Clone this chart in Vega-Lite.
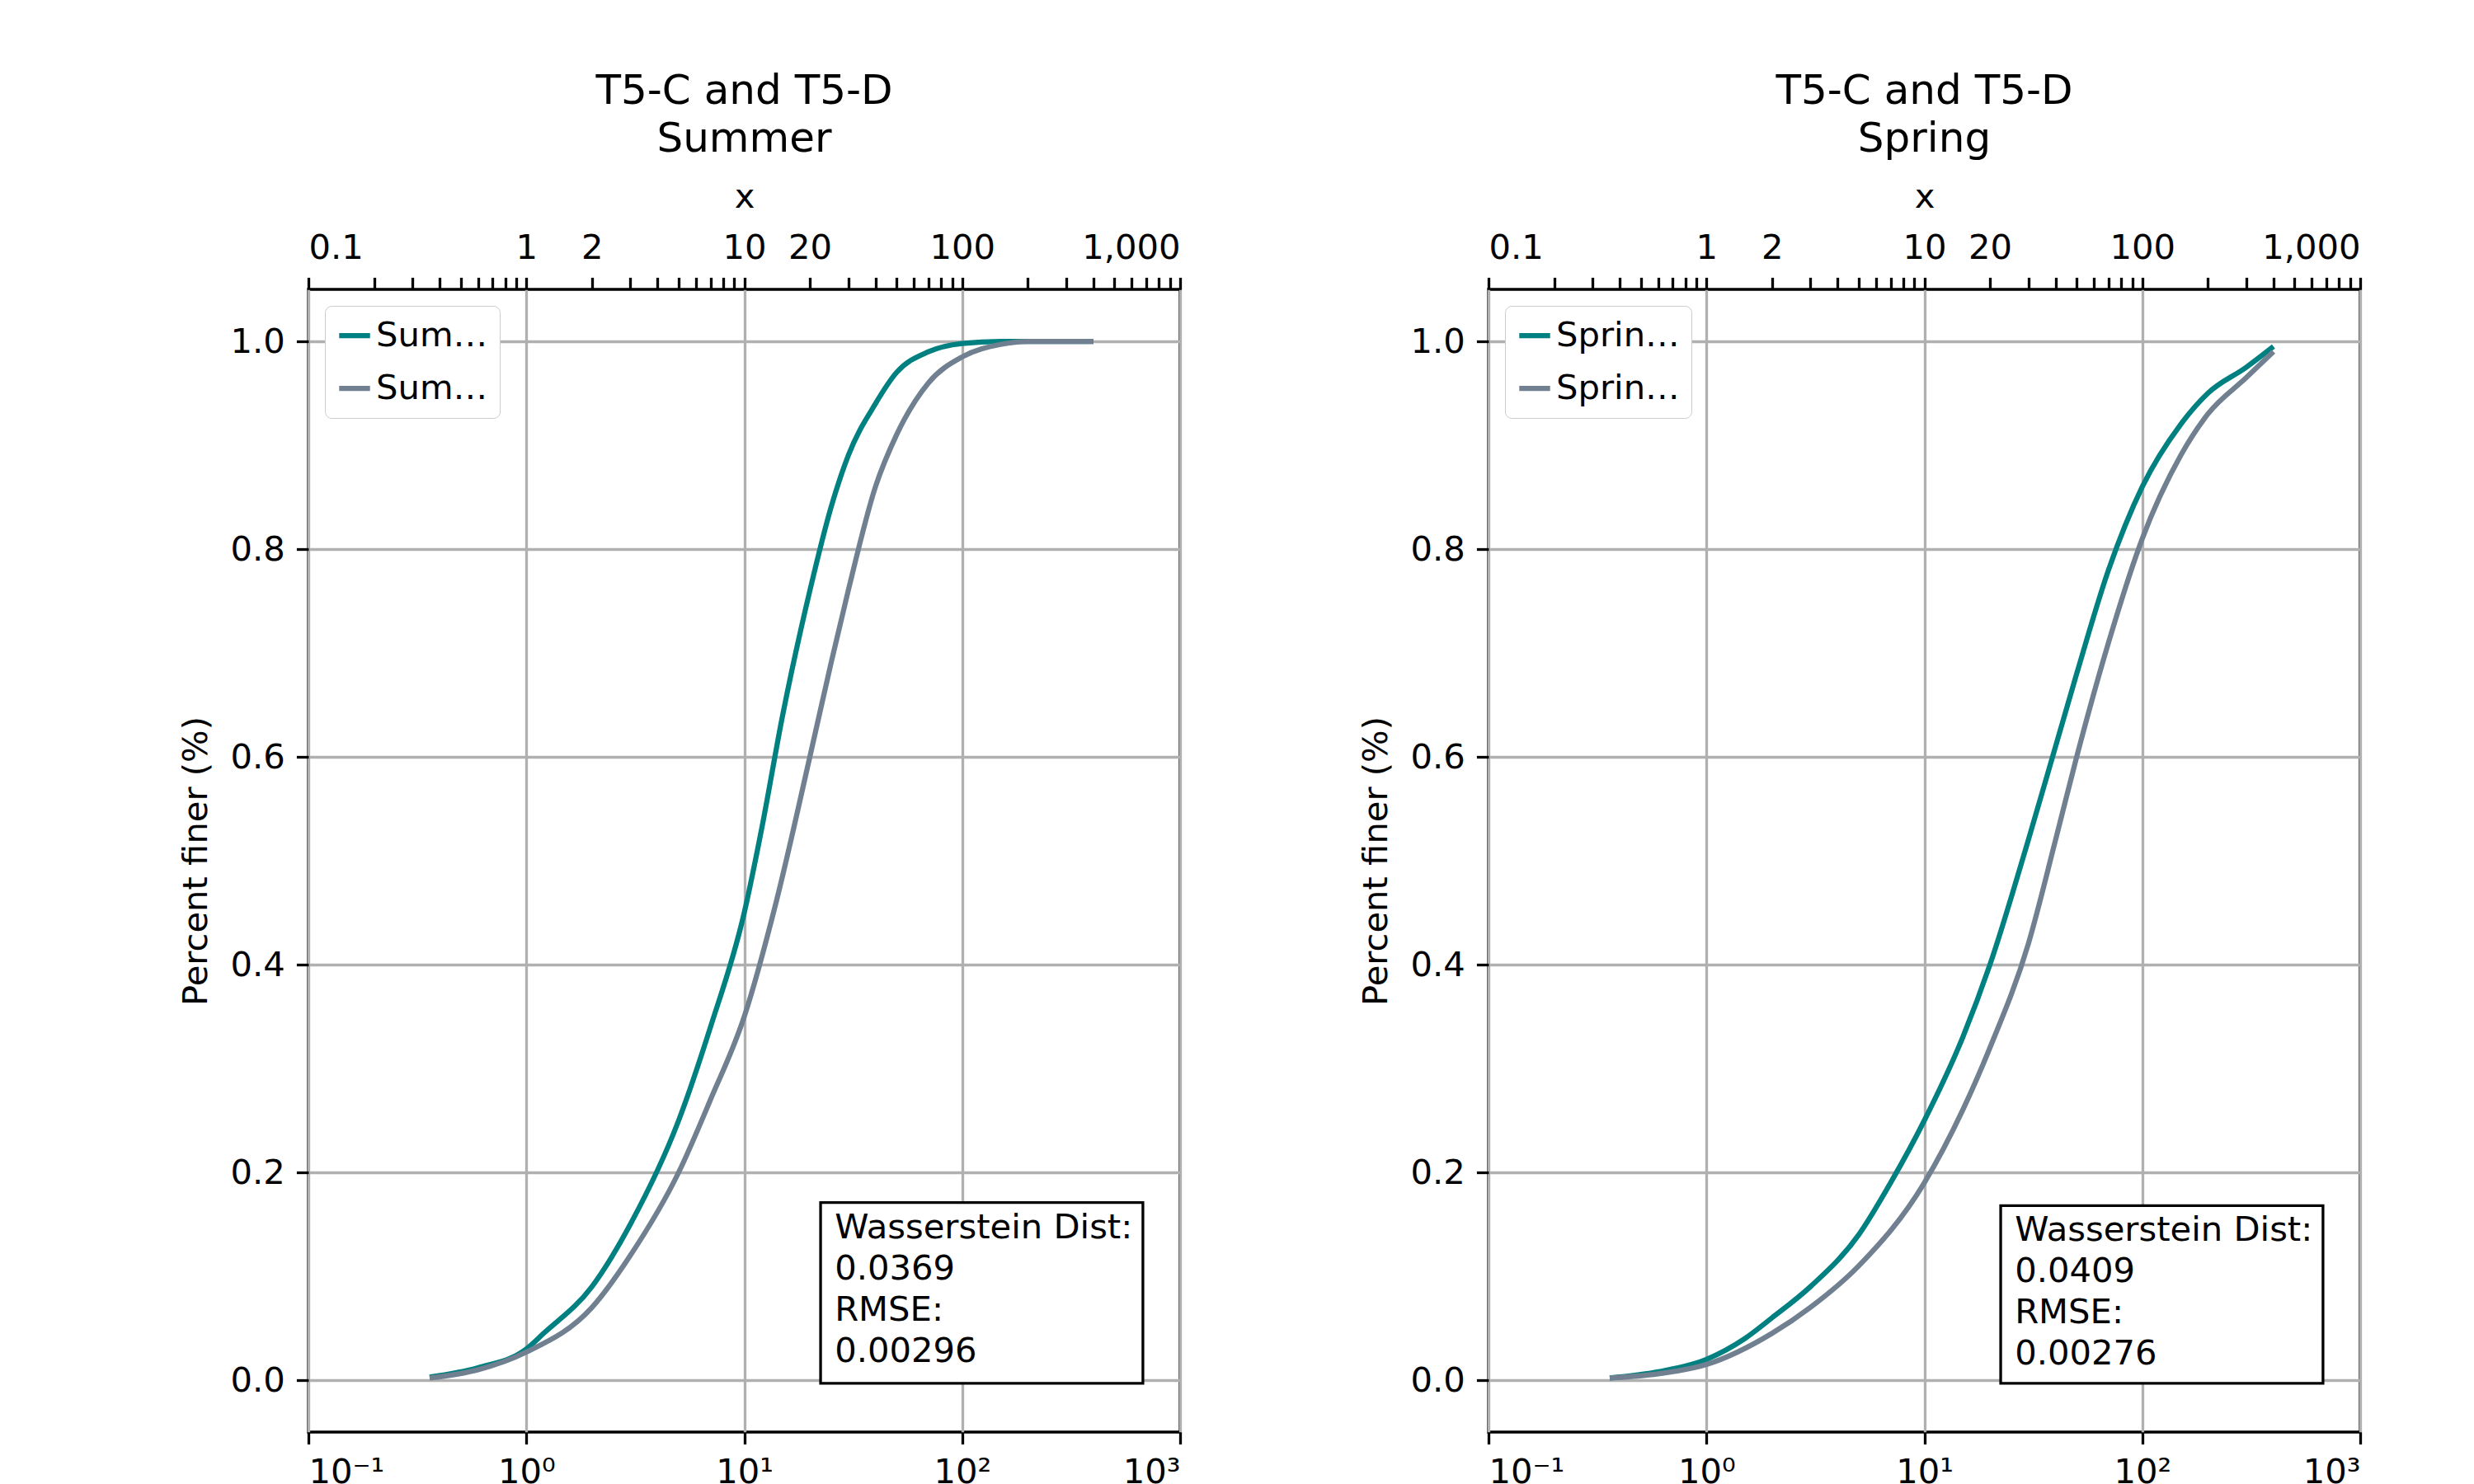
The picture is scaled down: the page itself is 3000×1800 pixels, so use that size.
{
  "$schema": "https://vega.github.io/schema/vega-lite/v6.json",
  "padding": {"left": 215, "top": 84, "right": 0, "bottom": 0},
  "background": "white",
  "spacing": 211,
  "config": {
    "font": "DejaVu Sans",
    "view": {"stroke": "black", "strokeWidth": 3.3},
    "title": {"fontSize": 50, "fontWeight": "normal", "lineHeight": 58, "offset": 24, "color": "black"},
    "axis": {
      "labelFontSize": 41.7, "titleFontSize": 41.7, "titleFontWeight": "normal",
      "labelColor": "black", "titleColor": "black",
      "gridColor": "#b0b0b0", "gridWidth": 3.3, "gridOpacity": 1,
      "tickColor": "black", "tickWidth": 3.3, "tickSize": 14.6,
      "domain": false, "labelPadding": 14, "titlePadding": 20
    },
    "legend": {
      "labelFontSize": 41.7, "symbolType": "stroke", "symbolSize": 1400,
      "symbolStrokeWidth": 6.25, "fillColor": "white", "strokeColor": "#cccccc",
      "cornerRadius": 8, "padding": 14, "offset": 20, "rowPadding": 20, "labelColor": "black"
    }
  },
  "hconcat": [
    {
      "width": 1057, "height": 1386,
      "title": {"text": ["T5-C and T5-D", "Summer"]},
      "resolve": {"axis": {"x": "independent"}},
      "layer": [
        {
          "data": {"values": [
            {"x": 0.36, "y": 0.003, "s": "Summer Closed Trap"}, {"x": 0.6, "y": 0.012, "s": "Summer Closed Trap"},
            {"x": 1.0, "y": 0.03, "s": "Summer Closed Trap"}, {"x": 1.2, "y": 0.045, "s": "Summer Closed Trap"},
            {"x": 2, "y": 0.09, "s": "Summer Closed Trap"}, {"x": 3, "y": 0.15, "s": "Summer Closed Trap"},
            {"x": 5, "y": 0.25, "s": "Summer Closed Trap"}, {"x": 7, "y": 0.34, "s": "Summer Closed Trap"},
            {"x": 10, "y": 0.45, "s": "Summer Closed Trap"}, {"x": 12, "y": 0.53, "s": "Summer Closed Trap"},
            {"x": 15, "y": 0.64, "s": "Summer Closed Trap"}, {"x": 20, "y": 0.76, "s": "Summer Closed Trap"},
            {"x": 25, "y": 0.84, "s": "Summer Closed Trap"}, {"x": 30, "y": 0.89, "s": "Summer Closed Trap"},
            {"x": 40, "y": 0.94, "s": "Summer Closed Trap"}, {"x": 50, "y": 0.97, "s": "Summer Closed Trap"},
            {"x": 70, "y": 0.99, "s": "Summer Closed Trap"}, {"x": 100, "y": 0.998, "s": "Summer Closed Trap"},
            {"x": 150, "y": 1.0, "s": "Summer Closed Trap"}, {"x": 400, "y": 1.0, "s": "Summer Closed Trap"},
            {"x": 0.36, "y": 0.002, "s": "Summer Open Trap"}, {"x": 0.6, "y": 0.01, "s": "Summer Open Trap"},
            {"x": 1.0, "y": 0.027, "s": "Summer Open Trap"}, {"x": 2, "y": 0.07, "s": "Summer Open Trap"},
            {"x": 3, "y": 0.12, "s": "Summer Open Trap"}, {"x": 5, "y": 0.2, "s": "Summer Open Trap"},
            {"x": 7, "y": 0.27, "s": "Summer Open Trap"}, {"x": 10, "y": 0.35, "s": "Summer Open Trap"},
            {"x": 14, "y": 0.46, "s": "Summer Open Trap"}, {"x": 20, "y": 0.6, "s": "Summer Open Trap"},
            {"x": 25, "y": 0.69, "s": "Summer Open Trap"}, {"x": 30, "y": 0.76, "s": "Summer Open Trap"},
            {"x": 40, "y": 0.86, "s": "Summer Open Trap"}, {"x": 50, "y": 0.91, "s": "Summer Open Trap"},
            {"x": 70, "y": 0.96, "s": "Summer Open Trap"}, {"x": 100, "y": 0.985, "s": "Summer Open Trap"},
            {"x": 150, "y": 0.997, "s": "Summer Open Trap"}, {"x": 200, "y": 1.0, "s": "Summer Open Trap"},
            {"x": 400, "y": 1.0, "s": "Summer Open Trap"}
          ]},
          "mark": {"type": "line", "strokeWidth": 6.25, "interpolate": "monotone"},
          "encoding": {
            "x": {"field": "x", "type": "quantitative", "scale": {"type": "log", "domain": [0.1, 1000], "nice": false},
              "title": "Grain size, Di (μm)",
              "axis": {"values": [0.1, 1, 10, 100, 1000], "labelExpr": "datum.value < 0.5 ? '10⁻¹' : datum.value < 5 ? '10⁰' : datum.value < 50 ? '10¹' : datum.value < 500 ? '10²' : '10³'"}},
            "y": {"field": "y", "type": "quantitative", "scale": {"domain": [-0.05, 1.05], "nice": false, "zero": false},
              "title": "Percent finer (%)", "axis": {"values": [0, 0.2, 0.4, 0.6, 0.8, 1.0], "format": ".1f"}},
            "color": {"field": "s", "type": "nominal", "title": null,
              "scale": {"domain": ["Summer Closed Trap", "Summer Open Trap"], "range": ["#008080", "#708090"]},
              "legend": {"orient": "top-left"}}
          }
        },
        {
          "data": {"values": [{"x1": 22.4, "x2": 675, "y1": -0.003, "y2": 0.171}]},
          "mark": {"type": "rect", "fill": "white", "stroke": "black", "strokeWidth": 3.3},
          "encoding": {
            "x": {"field": "x1", "type": "quantitative",
              "axis": {"values": [0.2,0.3,0.4,0.5,0.6,0.7,0.8,0.9,2,3,4,5,6,7,8,9,20,30,40,50,60,70,80,90,200,300,400,500,600,700,800,900], "labels": false, "grid": false, "tickSize": 8.3, "tickWidth": 2.5, "title": null}},
            "x2": {"field": "x2"},
            "y": {"field": "y1", "type": "quantitative"},
            "y2": {"field": "y2"}
          }
        },
        {
          "data": {"values": [{"x": 26, "y": 0.163, "t": ["Wasserstein Dist:", " 0.0369", "RMSE:", "0.00296"]}]},
          "mark": {"type": "text", "align": "left", "baseline": "top", "fontSize": 41.7, "lineHeight": 50, "color": "black"},
          "encoding": {
            "x": {"field": "x", "type": "quantitative"},
            "y": {"field": "y", "type": "quantitative"},
            "text": {"field": "t"}
          }
        }
      ]
    },
    {
      "width": 1057, "height": 1386,
      "title": {"text": ["T5-C and T5-D", "Spring"]},
      "resolve": {"axis": {"x": "independent"}},
      "layer": [
        {
          "data": {"values": [
            {"x": 0.36, "y": 0.002, "s": "Spring Closed Trap"}, {"x": 0.6, "y": 0.008, "s": "Spring Closed Trap"},
            {"x": 1, "y": 0.02, "s": "Spring Closed Trap"}, {"x": 1.5, "y": 0.04, "s": "Spring Closed Trap"},
            {"x": 2, "y": 0.06, "s": "Spring Closed Trap"}, {"x": 3, "y": 0.09, "s": "Spring Closed Trap"},
            {"x": 5, "y": 0.14, "s": "Spring Closed Trap"}, {"x": 7, "y": 0.19, "s": "Spring Closed Trap"},
            {"x": 10, "y": 0.25, "s": "Spring Closed Trap"}, {"x": 15, "y": 0.33, "s": "Spring Closed Trap"},
            {"x": 20, "y": 0.4, "s": "Spring Closed Trap"}, {"x": 30, "y": 0.52, "s": "Spring Closed Trap"},
            {"x": 40, "y": 0.61, "s": "Spring Closed Trap"}, {"x": 50, "y": 0.68, "s": "Spring Closed Trap"},
            {"x": 70, "y": 0.78, "s": "Spring Closed Trap"}, {"x": 100, "y": 0.86, "s": "Spring Closed Trap"},
            {"x": 150, "y": 0.92, "s": "Spring Closed Trap"}, {"x": 200, "y": 0.95, "s": "Spring Closed Trap"},
            {"x": 300, "y": 0.975, "s": "Spring Closed Trap"}, {"x": 400, "y": 0.995, "s": "Spring Closed Trap"},
            {"x": 0.36, "y": 0.002, "s": "Spring Open Trap"}, {"x": 0.6, "y": 0.006, "s": "Spring Open Trap"},
            {"x": 1, "y": 0.015, "s": "Spring Open Trap"}, {"x": 2, "y": 0.045, "s": "Spring Open Trap"},
            {"x": 3, "y": 0.07, "s": "Spring Open Trap"}, {"x": 5, "y": 0.11, "s": "Spring Open Trap"},
            {"x": 10, "y": 0.19, "s": "Spring Open Trap"}, {"x": 15, "y": 0.26, "s": "Spring Open Trap"},
            {"x": 20, "y": 0.32, "s": "Spring Open Trap"}, {"x": 30, "y": 0.42, "s": "Spring Open Trap"},
            {"x": 40, "y": 0.52, "s": "Spring Open Trap"}, {"x": 50, "y": 0.6, "s": "Spring Open Trap"},
            {"x": 70, "y": 0.71, "s": "Spring Open Trap"}, {"x": 100, "y": 0.81, "s": "Spring Open Trap"},
            {"x": 150, "y": 0.89, "s": "Spring Open Trap"}, {"x": 200, "y": 0.93, "s": "Spring Open Trap"},
            {"x": 300, "y": 0.965, "s": "Spring Open Trap"}, {"x": 400, "y": 0.99, "s": "Spring Open Trap"}
          ]},
          "mark": {"type": "line", "strokeWidth": 6.25, "interpolate": "monotone"},
          "encoding": {
            "x": {"field": "x", "type": "quantitative", "scale": {"type": "log", "domain": [0.1, 1000], "nice": false},
              "title": "Grain size, Di (μm)",
              "axis": {"values": [0.1, 1, 10, 100, 1000], "labelExpr": "datum.value < 0.5 ? '10⁻¹' : datum.value < 5 ? '10⁰' : datum.value < 50 ? '10¹' : datum.value < 500 ? '10²' : '10³'"}},
            "y": {"field": "y", "type": "quantitative", "scale": {"domain": [-0.05, 1.05], "nice": false, "zero": false},
              "title": "Percent finer (%)", "axis": {"values": [0, 0.2, 0.4, 0.6, 0.8, 1.0], "format": ".1f"}},
            "color": {"field": "s", "type": "nominal", "title": null,
              "scale": {"domain": ["Spring Closed Trap", "Spring Open Trap"], "range": ["#008080", "#708090"]},
              "legend": {"orient": "top-left"}}
          }
        },
        {
          "data": {"values": [{"x1": 22.4, "x2": 675, "y1": -0.003, "y2": 0.168}]},
          "mark": {"type": "rect", "fill": "white", "stroke": "black", "strokeWidth": 3.3},
          "encoding": {
            "x": {"field": "x1", "type": "quantitative",
              "axis": {"values": [0.2,0.3,0.4,0.5,0.6,0.7,0.8,0.9,2,3,4,5,6,7,8,9,20,30,40,50,60,70,80,90,200,300,400,500,600,700,800,900], "labels": false, "grid": false, "tickSize": 8.3, "tickWidth": 2.5, "title": null}},
            "x2": {"field": "x2"},
            "y": {"field": "y1", "type": "quantitative"},
            "y2": {"field": "y2"}
          }
        },
        {
          "data": {"values": [{"x": 26, "y": 0.16, "t": ["Wasserstein Dist:", " 0.0409", "RMSE:", " 0.00276"]}]},
          "mark": {"type": "text", "align": "left", "baseline": "top", "fontSize": 41.7, "lineHeight": 50, "color": "black"},
          "encoding": {
            "x": {"field": "x", "type": "quantitative"},
            "y": {"field": "y", "type": "quantitative"},
            "text": {"field": "t"}
          }
        }
      ]
    }
  ],
  "resolve": {"scale": {"color": "independent"}}
}
